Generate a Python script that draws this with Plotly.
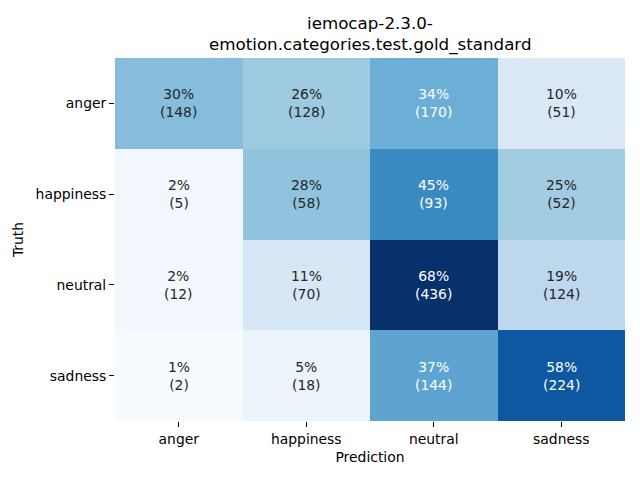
import plotly.graph_objects as go
import numpy as np

labels = ["anger", "happiness", "neutral", "sadness"]
counts = [
    [148, 128, 170, 51],
    [5, 58, 93, 52],
    [12, 70, 436, 124],
    [2, 18, 144, 224],
]
title_lines = ["iemocap-2.3.0-", "emotion.categories.test.gold_standard"]

blues_hex = ["#f7fbff", "#deebf7", "#c6dbef", "#9ecae1", "#6baed6",
             "#4292c6", "#2171b5", "#08519c", "#08306b"]

c = np.array(counts, dtype=float)
pct = c / c.sum(axis=1, keepdims=True) * 100
zmin, zmax = pct.min(), pct.max()

colorscale = [[i / (len(blues_hex) - 1), h] for i, h in enumerate(blues_hex)]


def hex2rgb(h):
    return np.array([int(h[i:i + 2], 16) for i in (1, 3, 5)]) / 255.0


def interp(t):
    pos = t * (len(blues_hex) - 1)
    i = min(int(np.floor(pos)), len(blues_hex) - 2)
    f = pos - i
    return hex2rgb(blues_hex[i]) * (1 - f) + hex2rgb(blues_hex[i + 1]) * f


def lum(rgb):
    rgb = np.where(rgb <= 0.03928, rgb / 12.92, ((rgb + 0.055) / 1.055) ** 2.4)
    return 0.2126 * rgb[0] + 0.7152 * rgb[1] + 0.0722 * rgb[2]


fig = go.Figure(go.Heatmap(
    z=pct, x=labels, y=labels, colorscale=colorscale, zmin=zmin, zmax=zmax,
    showscale=False, hoverinfo="skip", xgap=0, ygap=0,
))

H_PLOT = 480 - 58 - 59
annotations = []
for i, r in enumerate(labels):
    for j, cl in enumerate(labels):
        t = (pct[i, j] - zmin) / (zmax - zmin)
        col = "#262626" if lum(interp(t)) > 0.408 else "white"
        annotations.append(dict(
            x=cl, y=r, xref="x", yref="y", showarrow=False,
            text=f"{pct[i, j]:.0f}%<br>({counts[i][j]})",
            font=dict(family="DejaVu Sans", size=13.9, color=col),
        ))

for line, ypx in zip(title_lines, [23, 44]):
    annotations.append(dict(
        text=line, x=0.5, xref="paper", xanchor="center",
        y=1 + (58 - ypx) / H_PLOT, yref="paper", yanchor="middle",
        showarrow=False,
        font=dict(family="DejaVu Sans", size=16.7, color="black"),
    ))

fig.update_layout(
    width=640, height=480,
    margin=dict(l=115, r=15, t=58, b=59),
    paper_bgcolor="white", plot_bgcolor="white",
    font=dict(family="DejaVu Sans", size=13.9, color="black"),
    annotations=annotations,
    xaxis=dict(title=dict(text="Prediction", standoff=6, font=dict(size=13.9)),
               ticks="outside", ticklen=5, tickcolor="black", showgrid=False,
               zeroline=False, showline=False),
    yaxis=dict(title=dict(text="Truth", standoff=8, font=dict(size=13.9)),
               ticks="outside", ticklen=5, tickcolor="black", showgrid=False,
               zeroline=False, showline=False, autorange="reversed"),
)

fig.write_html("out.html", config={"displayModeBar": False},
               post_script="document.body.style.margin='0';")
